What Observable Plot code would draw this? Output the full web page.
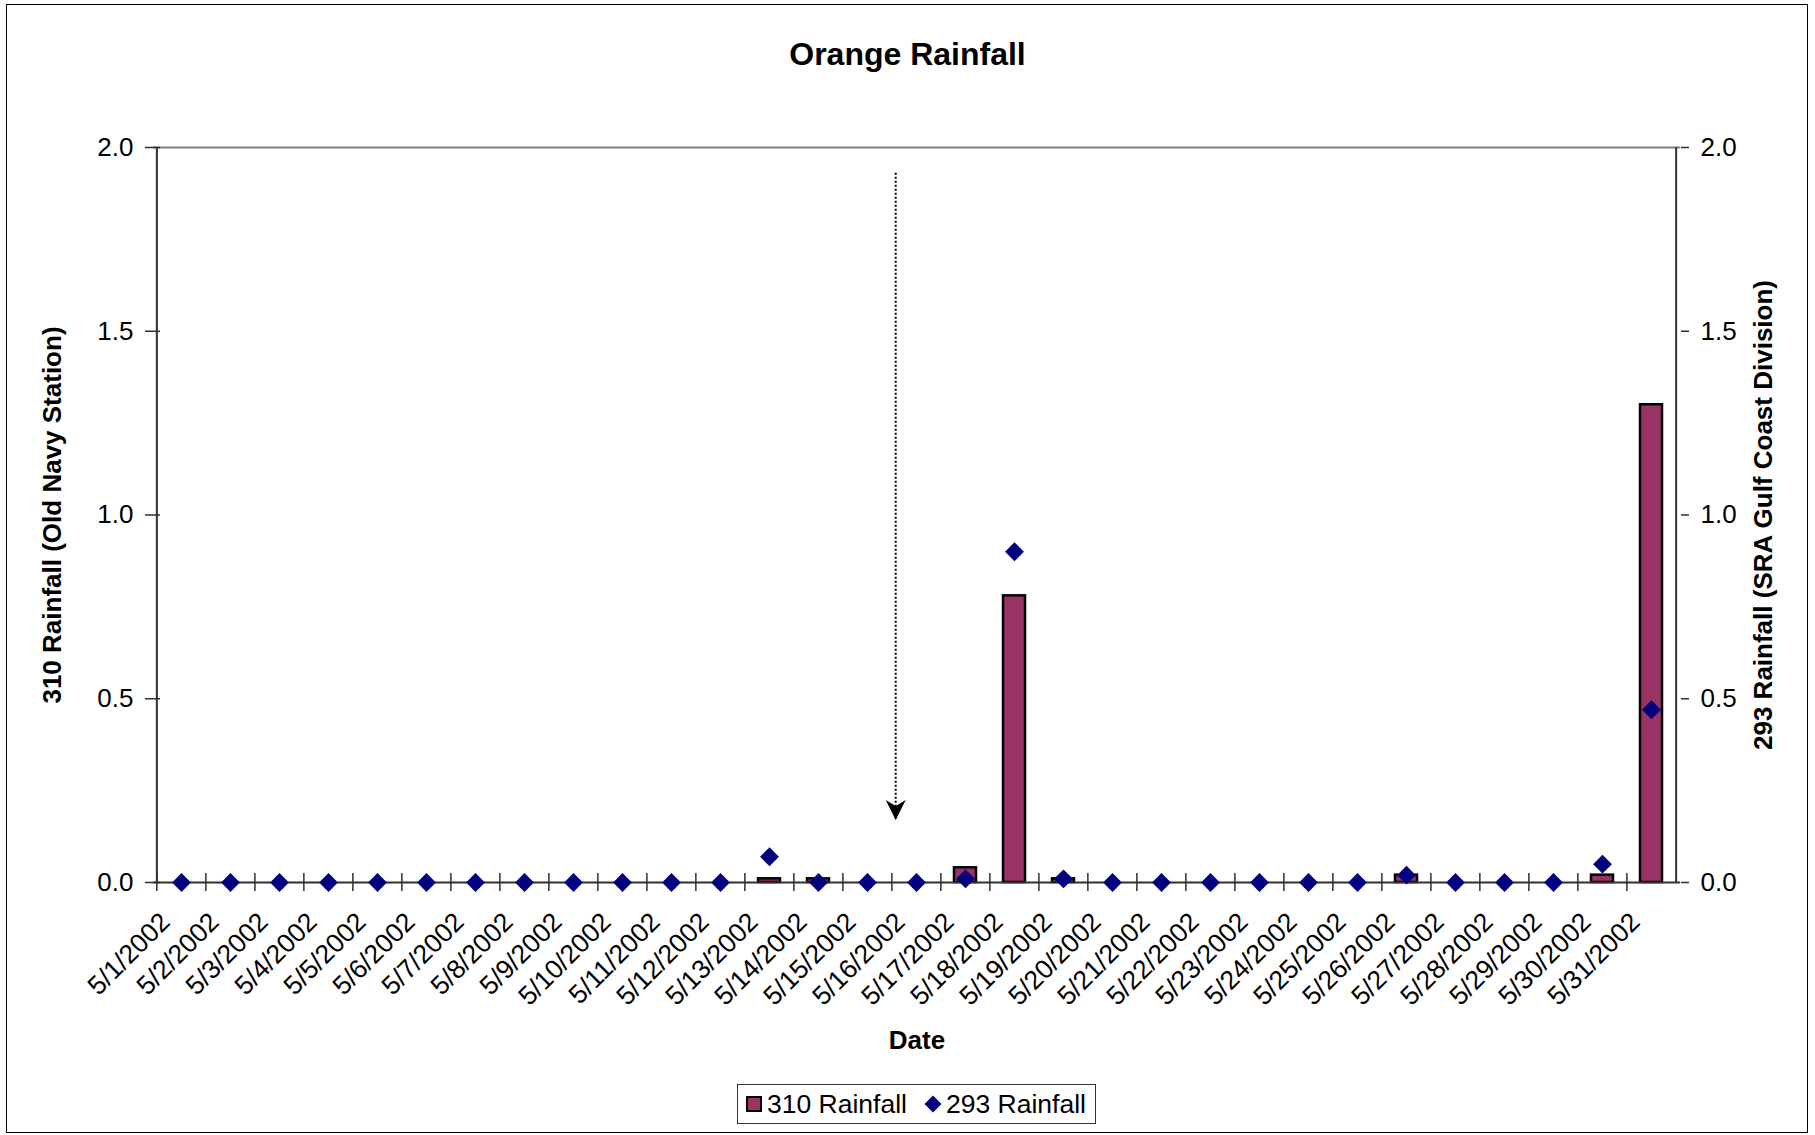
<!DOCTYPE html>
<html>
<head>
<meta charset="utf-8">
<script src="https://cdn.jsdelivr.net/npm/d3@7"></script>
<script src="https://cdn.jsdelivr.net/npm/@observablehq/plot@0.6"></script>
<style>
  html, body { margin: 0; padding: 0; background: #fff; }
  body { width: 1815px; height: 1135px; position: relative; overflow: hidden; font-family: "Liberation Sans", Arial, sans-serif; }
  #frame { position: absolute; left: 6px; top: 4px; width: 1802px; height: 1129px; border: 1.5px solid #000; box-sizing: border-box; }
  #title { position: absolute; left: 0; top: 35px; width: 1815px; text-align: center; font-weight: bold; font-size: 32px; line-height: 38px; }
  #chart { position: absolute; left: 0; top: 90px; }
  #legend { position: absolute; left: 737px; top: 1084px; width: 359px; height: 40px; border: 1px solid #333; box-sizing: border-box; font-size: 26.5px; }
  #legend .item { position: absolute; top: 0; height: 38px; line-height: 38px; white-space: nowrap; }
  #legend .sq { display: inline-block; width: 16px; height: 16px; background: #993366; border: 2px solid #000; box-sizing: border-box; vertical-align: middle; position: relative; top: -2px; margin-right: 5px; }
  #legend .dm { display: inline-block; width: 12px; height: 12px; background: #000080; transform: rotate(45deg); vertical-align: middle; position: relative; top: -2px; margin-right: 7px; margin-left: 3px; }
</style>
</head>
<body>
<div id="frame"></div>
<div id="title"></div>
<div id="chart"></div>
<div id="legend"></div>
<script>
// ---- data ----
const chartTitle = "Orange Rainfall";
const dates = ["5/1/2002","5/2/2002","5/3/2002","5/4/2002","5/5/2002","5/6/2002","5/7/2002","5/8/2002","5/9/2002","5/10/2002",
  "5/11/2002","5/12/2002","5/13/2002","5/14/2002","5/15/2002","5/16/2002","5/17/2002","5/18/2002","5/19/2002","5/20/2002",
  "5/21/2002","5/22/2002","5/23/2002","5/24/2002","5/25/2002","5/26/2002","5/27/2002","5/28/2002","5/29/2002","5/30/2002","5/31/2002"];
const rain310 = [0,0,0,0,0,0,0,0,0,0, 0,0,0.01,0.01,0,0,0.04,0.78,0.01,0, 0,0,0,0,0,0.02,0,0,0,0.02,1.30];
const rain293 = [0,0,0,0,0,0,0,0,0,0, 0,0,0.07,0,0,0,0.01,0.90,0.01,0, 0,0,0,0,0,0.02,0,0,0,0.05,0.47];
const yTicks = [0, 0.5, 1.0, 1.5, 2.0];
const seriesNames = ["310 Rainfall", "293 Rainfall"];
const leftTitle = "310 Rainfall (Old Navy Station)";
const rightTitle = "293 Rainfall (SRA Gulf Coast Division)";
const xTitle = "Date";
const arrowNote = [{date: "5/16/2002", top: 1.93, tip: 0.17}];

// ---- build ----
const rows = dates.map((d, i) => ({date: d, v310: rain310[i], v293: rain293[i]}));

const W = 1815, H = 985;
const mL = 153, mR = 135, mT = 57, mB = 193;
const step = (W - mL - mR) / dates.length;

const arrowHead = {
  draw(ctx) {
    ctx.moveTo(0, 0);
    ctx.lineTo(-10, -20);
    ctx.lineTo(0, -14);
    ctx.lineTo(10, -20);
    ctx.closePath();
  }
};

const axisColor = "#303030";

const chart = Plot.plot({
  width: W, height: H,
  marginLeft: mL, marginRight: mR, marginTop: mT, marginBottom: mB,
  style: {fontFamily: "'Liberation Sans', Arial, sans-serif", fontSize: "26px", color: "#000", background: "transparent", overflow: "visible"},
  x: {type: "band", domain: dates, paddingInner: 0.55, paddingOuter: 0.275, axis: null},
  y: {domain: [0, 2], axis: null},
  marks: [
    Plot.ruleY([2], {stroke: "#808080", strokeWidth: 2}),
    Plot.barY(rows.filter(r => r.v310 > 0), {x: "date", y: "v310", fill: "#993366", stroke: "#000", strokeWidth: 2.5}),
    // axis lines
    Plot.ruleY([0], {stroke: axisColor, strokeWidth: 2}),
    Plot.ruleX([dates[0]], {dx: -step / 2, stroke: axisColor, strokeWidth: 2}),
    Plot.ruleX([dates[dates.length - 1]], {dx: step / 2, stroke: axisColor, strokeWidth: 2}),
    // category ticks between categories
    Plot.axisX({tickSize: 18, dy: -9, dx: -step / 2, tickFormat: () => "", stroke: axisColor, strokeWidth: 1.5, label: null}),
    // category labels
    Plot.axisX({tickSize: 0, tickRotate: -45, tickPadding: 35, dx: -16, fontSize: 26.5, fill: "#000", label: null}),
    // left axis
    Plot.axisY({anchor: "left", ticks: yTicks, tickSize: 15, dx: 7, tickFormat: () => "", stroke: axisColor, strokeWidth: 1.5, label: null}),
    Plot.axisY({anchor: "left", ticks: yTicks, tickSize: 0, tickPadding: 20, tickFormat: d3.format(".1f"), fontSize: 26, fill: "#000", label: null}),
    // right axis
    Plot.axisY({anchor: "right", ticks: yTicks, tickSize: 8, tickPadding: 12, tickFormat: d3.format(".1f"), fontSize: 26, fill: "#000", stroke: axisColor, strokeWidth: 1.5, label: null}),
    // axis titles
    Plot.text([leftTitle], {text: d => d, frameAnchor: "left", textAnchor: "middle", dx: -101, rotate: -90, fontWeight: "bold", fontSize: 26, fill: "#000"}),
    Plot.text([rightTitle], {text: d => d, frameAnchor: "right", textAnchor: "middle", dx: 83, rotate: -90, fontWeight: "bold", fontSize: 26, fill: "#000"}),
    Plot.text([xTitle], {text: d => d, frameAnchor: "bottom", dy: 166, fontWeight: "bold", fontSize: 26, fill: "#000"}),
    // 293 series diamonds
    Plot.dot(rows, {x: "date", y: "v293", symbol: "diamond2", r: 8.5, fill: "#000080", stroke: null}),
    // annotation arrow
    Plot.ruleX(arrowNote, {x: "date", y1: "top", y2: "tip", dx: -20.8, stroke: "#000", strokeWidth: 2, strokeDasharray: "2,2"}),
    Plot.dot(arrowNote, {x: "date", y: "tip", dx: -20.8, symbol: arrowHead, r: 5, fill: "#000", stroke: null})
  ]
});
document.getElementById("chart").appendChild(chart);

document.getElementById("title").textContent = chartTitle;

const legend = document.getElementById("legend");
legend.innerHTML =
  `<span class="item" style="left:8px"><span class="sq"></span>${seriesNames[0]}</span>` +
  `<span class="item" style="left:186px"><span class="dm"></span>${seriesNames[1]}</span>`;
</script>
</body>
</html>
